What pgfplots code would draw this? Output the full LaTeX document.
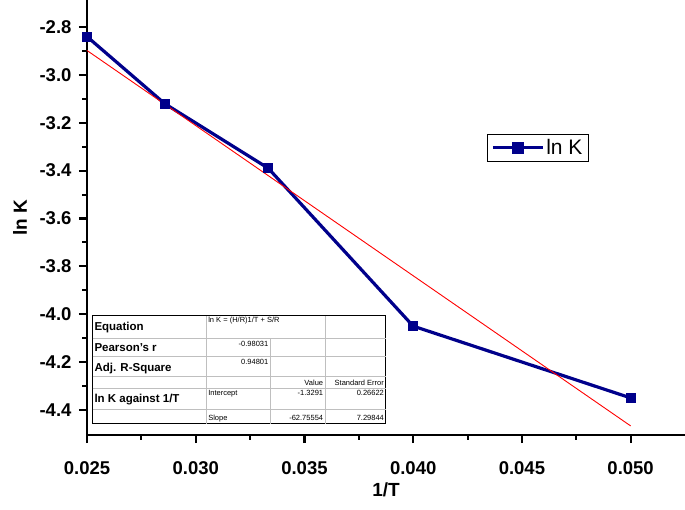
\documentclass[border=0pt]{standalone}
\usepackage{pgfplots}
\pgfplotsset{compat=1.18}
\usepackage{fontspec}
\setmainfont{Liberation Sans}
\usepackage{array}
\usepackage{colortbl}
\definecolor{navy}{RGB}{0,0,139}
\newcommand{\sm}{\fontsize{7.5}{8}\selectfont}
\newcommand{\bg}{\fontsize{11.5}{12}\selectfont\bfseries}
\begin{document}
\begin{tikzpicture}
\begin{axis}[
  scale only axis, width=598pt, height=435pt,
  at={(0,0)}, anchor=south west,
  xmin=0.025, xmax=0.0525, ymin=-4.505, ymax=-2.687,
  axis x line=bottom, axis y line=left,
  axis line style={line width=2.2pt, -},
  xtick={0.025,0.030,0.035,0.040,0.045,0.050},
  ytick={-4.4,-4.2,-4.0,-3.8,-3.6,-3.4,-3.2,-3.0,-2.8},
  minor x tick num=1, minor y tick num=1,
  tick align=outside,
  major tick length=8pt, minor tick length=4.5pt,
  every tick/.style={line width=2.2pt, black},
  every minor tick/.style={line width=2pt, black},
  scaled x ticks=false,
  xticklabel style={yshift=-15pt, /pgf/number format/fixed, /pgf/number format/fixed zerofill, /pgf/number format/precision=3, /pgf/number format/assume math mode=true},
  yticklabel style={xshift=-4pt, /pgf/number format/fixed, /pgf/number format/fixed zerofill, /pgf/number format/precision=1, /pgf/number format/assume math mode=true},
  ticklabel style={font=\fontsize{18.5}{22}\selectfont\bfseries},
  xlabel={\fontsize{19}{22}\selectfont\bfseries 1/T},
  ylabel={\fontsize{19}{22}\selectfont\bfseries ln K},
  xlabel style={at={(rel axis cs:0.5,0)}, anchor=center, yshift=-55pt},
  ylabel style={at={(rel axis cs:0,0.5)}, anchor=center, xshift=0pt, yshift=67pt},
  clip=false,
  legend style={at={(rel axis cs:0.669,0.692)}, anchor=north west, draw=black, line width=0.8pt,
    font=\fontsize{21}{23}\selectfont, inner xsep=4pt, inner ysep=3pt, row sep=0pt},
  legend cell align=left,
  legend image code/.code={\draw[navy, line width=2.8pt] (0pt,0pt) -- (50pt,0pt); \fill[navy] (25pt,0pt) ++(-4.5pt,-4.5pt) rectangle ++(9pt,9pt);},
]
\addplot[color=navy, line width=3.2pt, mark=square*, mark size=4.5pt, mark options={solid, fill=navy, line width=0pt}]
  coordinates {(0.025,-2.84) (0.028571,-3.12) (0.033333,-3.39) (0.04,-4.05) (0.05,-4.35)};
\addlegendentry{ln K}
\addplot[color=red, line width=0.9pt, forget plot]
  coordinates {(0.025,-2.898) (0.05,-4.467)};
\end{axis}
\node[anchor=north west, inner sep=0pt, fill=white, draw=black, line width=1pt] at (5pt,120pt) {%
  \renewcommand{\arraystretch}{0}%
  \setlength{\tabcolsep}{2pt}%
  \setlength{\arrayrulewidth}{0.8pt}%
  \arrayrulecolor{black!25}%
  \begin{tabular}{>{\raggedright}p{109pt}|>{\raggedleft}p{60pt}|>{\raggedleft}p{50pt}|>{\raggedleft\arraybackslash}p{56pt}}
  \rule[-7pt]{0pt}{22pt}\bg Equation & \multicolumn{2}{l|}{\raisebox{8pt}{\sm ln K = (H/R)1/T + S/R}} & \\ \hline
  \rule[-5pt]{0pt}{18pt}\bg Pearson's r & \raisebox{5pt}{\sm -0.98031} & & \\ \hline
  \rule[-5pt]{0pt}{19pt}\bg Adj. R-Square & \raisebox{7pt}{\sm 0.94801} & & \\ \hline
  \rule[-2.5pt]{0pt}{11pt} & & \sm Value & \sm Standard Error \\ \hline
  \rule[-6pt]{0pt}{20pt}\bg ln K against 1/T & \raisebox{7pt}{\makebox[60pt][l]{\sm Intercept}} & \raisebox{7pt}{\sm -1.3291} & \raisebox{7pt}{\sm 0.26622} \\ \hline
  \rule[-3.5pt]{0pt}{14pt} & \makebox[60pt][l]{\sm Slope} & \sm -62.75554 & \sm 7.29844 \\
  \end{tabular}};
\pgfresetboundingbox
\path[use as bounding box] (-87pt,-74pt) rectangle (598pt,435pt);
\end{tikzpicture}
\end{document}
